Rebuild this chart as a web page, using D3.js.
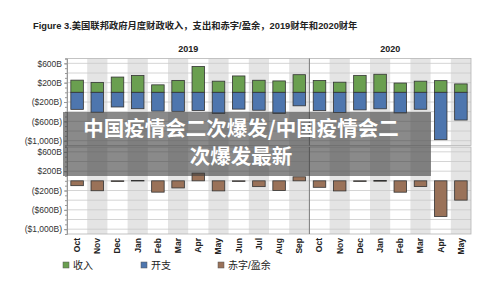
<!DOCTYPE html>
<html>
<head>
<meta charset="utf-8">
<script src="https://cdn.jsdelivr.net/npm/d3@7"></script>
<style>
  body { margin: 0; background: #fff; }
  .chart text { font-family: "Liberation Sans", Arial, "Noto Sans CJK SC", sans-serif; }
</style>
</head>
<body>
<div class="chart"></div>
<script>
const months = ["Oct","Nov","Dec","Jan","Feb","Mar","Apr","May","Jun","Jul","Aug","Sep",
                "Oct","Nov","Dec","Jan","Feb","Mar","Apr","May"]
const fiscalYears = ["2019", "2020"]
const yearMonths = [12, 8]
const receipts = [252,206,316,348,155,247,536,231,339,250,236,365,245,210,351,374,192,231,242,174]
const outlays = [352,411,303,339,389,393,376,439,347,370,436,279,379,417,364,341,427,350,980,573]
const deficit = [-100,-205,-14,9,-234,-147,160,-208,-8,-120,-200,83,-134,-209,-13,5,-235,-119,-738,-399]
const yTickLabels = [600, 200, -200, -600, -1000]
const legendItems = ["收入", "开支", "赤字/盈余"]

const width = 500, height = 289
const margin = { left: 67, right: 29 }
const panelH = 87
const panels = [58.5, 147]
const colors = { rec: "#6a9f50", out: "#4e76ae", def: "#9a7259" }

const svg = d3.select(".chart").append("svg")
    .attr("width", width).attr("height", height)

svg.append("rect").attr("width", width).attr("height", height).attr("fill", "#fff")

const idx = months.map((m, i) => i)
const xBand = d3.scaleBand().domain(idx).range([margin.left, width - margin.right])
const x = d3.scaleBand().domain(idx).range([margin.left, width - margin.right])
    .paddingInner(0.38).paddingOuter(0.19)

const fmt = v => v > 0 ? `$${d3.format(",")(v)}B` : `($${d3.format(",")(-v)}B)`

// title
svg.append("text")
    .attr("x", 33).attr("y", 28.5)
    .attr("font-size", 9.3).attr("font-weight", "bold").attr("fill", "#222")
    .text("Figure 3.美国联邦政府月度财政收入，支出和赤字/盈余，2019财年和2020财年")

// fiscal year headers
let start = 0
fiscalYears.forEach((fy, k) => {
    const x0 = xBand(start), x1 = xBand(start + yearMonths[k] - 1) + xBand.bandwidth()
    svg.append("text")
        .attr("x", (x0 + x1) / 2).attr("y", 52)
        .attr("text-anchor", "middle").attr("font-size", 9).attr("font-weight", "bold").attr("fill", "#222")
        .text(fy)
    start += yearMonths[k]
})

const panelData = [
    [{ key: "rec", vals: receipts }, { key: "out", vals: outlays.map(v => -v) }],
    [{ key: "def", vals: deficit }]
]

panels.forEach((top, p) => {
    const y = d3.scaleLinear().domain([-1100, 700]).range([top + panelH, top])
    const g = svg.append("g")

    // alternating month shading
    g.selectAll(".shade").data(idx.filter(i => i % 2 == 1)).enter()
        .append("rect")
        .attr("x", i => xBand(i)).attr("width", xBand.bandwidth())
        .attr("y", top).attr("height", panelH)
        .attr("fill", "#e4e4e4")

    // grid lines
    g.selectAll(".grid").data(d3.range(-1000, 601, 200)).enter()
        .append("line")
        .attr("x1", margin.left).attr("x2", width - margin.right)
        .attr("y1", d => y(d)).attr("y2", d => y(d))
        .attr("stroke", "#c9c9c9").attr("stroke-width", 0.8)

    panelData[p].forEach(s => {
        g.selectAll(".bar-" + s.key).data(s.vals).enter()
            .append("rect")
            .attr("x", (d, i) => x(i)).attr("width", x.bandwidth())
            .attr("y", d => y(Math.max(0, d)))
            .attr("height", d => Math.max(0.6, Math.abs(y(d) - y(0))))
            .attr("fill", colors[s.key])
            .attr("stroke", "#333").attr("stroke-width", 0.8)
    })

    // border
    g.append("rect")
        .attr("x", margin.left).attr("y", top)
        .attr("width", width - margin.right - margin.left).attr("height", panelH)
        .attr("fill", "none").attr("stroke", "#b5b5b5").attr("stroke-width", 0.8)

    // fiscal year divider
    g.append("line")
        .attr("x1", xBand(12)).attr("x2", xBand(12))
        .attr("y1", top).attr("y2", top + panelH)
        .attr("stroke", "#7a7a7a").attr("stroke-width", 1)

    // axes
    g.append("g")
        .attr("transform", `translate(${margin.left},0)`)
        .call(d3.axisLeft(y).tickValues(d3.range(-1100, 701, 100)).tickSize(2).tickFormat(""))
        .call(a => a.select(".domain").attr("stroke", "#999"))
        .call(a => a.selectAll("line").attr("stroke", "#999"))

    g.append("g")
        .attr("transform", `translate(${margin.left},0)`)
        .call(d3.axisLeft(y).tickValues(yTickLabels).tickSize(3).tickPadding(2).tickFormat(fmt))
        .call(a => a.select(".domain").remove())
        .call(a => a.selectAll("line").attr("stroke", "#999"))
        .call(a => a.selectAll("text").attr("font-size", 8.5).attr("fill", "#333")
            .attr("font-family", "'Liberation Sans', Arial, sans-serif"))
})

// month labels
svg.append("g")
    .attr("transform", `translate(0,${panels[1] + panelH})`)
    .call(d3.axisBottom(xBand).tickSize(0).tickFormat(i => months[i]))
    .call(a => a.select(".domain").remove())
    .call(a => a.selectAll("text")
        .attr("transform", "rotate(-90)")
        .attr("text-anchor", "end")
        .attr("x", -4).attr("y", 0).attr("dy", "0.35em")
        .attr("font-size", 8.5).attr("font-weight", "bold").attr("fill", "#222")
        .attr("font-family", "'Liberation Sans', Arial, sans-serif"))

// legend
const legendX = [63, 141, 218]
const legendColors = [colors.rec, colors.out, colors.def]
legendItems.forEach((t, i) => {
    svg.append("rect")
        .attr("x", legendX[i]).attr("y", 262).attr("width", 6).attr("height", 6)
        .attr("fill", legendColors[i]).attr("stroke", "#555").attr("stroke-width", 0.5)
    svg.append("text")
        .attr("x", legendX[i] + 10).attr("y", 269)
        .attr("font-size", 10).attr("fill", "#222")
        .text(t)
})

// watermark overlay
svg.append("rect")
    .attr("x", 63).attr("y", 112).attr("width", 368).attr("height", 64)
    .attr("fill", "rgba(60,60,60,0.6)")

const overlayLines = ["中国疫情会二次爆发/中国疫情会二", "次爆发最新"]
overlayLines.forEach((t, i) => {
    svg.append("text")
        .attr("x", 241).attr("y", 136 + i * 28)
        .attr("text-anchor", "middle")
        .attr("font-size", 20.5).attr("font-weight", "bold").attr("fill", "#fff")
        .style("font-family", "'Noto Sans CJK SC', sans-serif")
        .text(t)
})
</script>
</body>
</html>
